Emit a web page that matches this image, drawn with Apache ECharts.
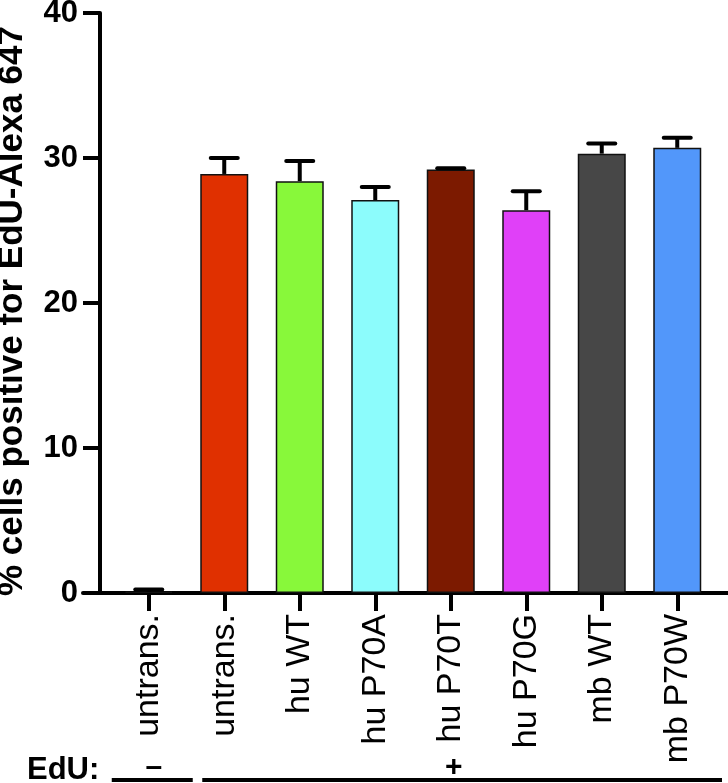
<!DOCTYPE html>
<html>
<head>
<meta charset="utf-8">
<script src="https://cdn.jsdelivr.net/npm/echarts@6/dist/echarts.min.js"></script>
<style>
  html, body { margin: 0; padding: 0; background: #fff; }
  #chart { width: 728px; height: 783px; }
</style>
</head>
<body>
<div id="chart"></div>
<script>
const categories = ['untrans.', 'untrans.', 'hu WT', 'hu P70A', 'hu P70T', 'hu P70G', 'mb WT', 'mb P70W']
const means = [0.1, 28.9, 28.4, 27.1, 29.2, 26.4, 30.3, 30.7]
const errors = [0.15, 1.1, 1.4, 0.9, 0.1, 1.3, 0.7, 0.7]
const barColors = ['#ffffff', '#e03000', '#88f83a', '#8cfcfc', '#7c1a00', '#e040f8', '#474747', '#5297fa']
const yTicks = [0, 10, 20, 30, 40]
const edu = [{ text: '–', from: 0, to: 0 }, { text: '+', from: 1, to: 7 }]

const FONT = '"Liberation Sans", Arial, Helvetica, sans-serif'
const chart = echarts.init(document.getElementById('chart'))

const option = {
  animation: false,
  grid: [
    { left: 111, right: 13, top: 13, bottom: 190, containLabel: false, outerBoundsMode: 'none' },
    { left: 83, right: 0, top: 13, bottom: 190, containLabel: false, outerBoundsMode: 'none' }
  ],
  xAxis: [
    {
      type: 'category',
      gridIndex: 0,
      data: categories,
      axisLine: { show: false },
      axisTick: { show: true, alignWithLabel: true, length: 18, lineStyle: { color: '#000', width: 4 } },
      axisLabel: {
        rotate: 90,
        interval: 0,
        margin: 21,
        color: '#000',
        fontFamily: FONT,
        fontSize: 34
      }
    },
    {
      // just the long baseline that runs past the y axis
      type: 'value',
      gridIndex: 1,
      min: 0,
      max: 1,
      axisLine: { show: true, lineStyle: { color: '#000', width: 4 } },
      axisTick: { show: false },
      axisLabel: { show: false },
      splitLine: { show: false }
    }
  ],
  yAxis: [
    {
      type: 'value',
      gridIndex: 0,
      min: 0,
      max: 40,
      interval: 10,
      offset: 11,
      name: '% cells positive for EdU-Alexa 647',
      nameLocation: 'middle',
      nameGap: 70,
      nameTextStyle: {
        color: '#000',
        fontFamily: FONT,
        fontWeight: 'bold',
        fontSize: 35,
        padding: [0, 16, 0, 0] // nudges the rotated title down a little
      },
      axisLine: { show: true, lineStyle: { color: '#000', width: 4 } },
      axisTick: { show: true, length: 17, lineStyle: { color: '#000', width: 4 } },
      axisLabel: {
        margin: 22,
        color: '#000',
        fontFamily: FONT,
        fontWeight: 'bold',
        fontSize: 31,
        formatter: v => (yTicks.includes(v) ? String(v) : '')
      },
      splitLine: { show: false }
    },
    {
      type: 'value',
      gridIndex: 1,
      show: false,
      min: 0,
      max: 1
    }
  ],
  series: [
    {
      type: 'bar',
      xAxisIndex: 0,
      yAxisIndex: 0,
      barWidth: 48,
      data: means.map((v, i) => ({
        value: v,
        itemStyle: { color: barColors[i], borderColor: '#111', borderWidth: 1.5 }
      })),
      z: 2
    },
    {
      type: 'custom',
      xAxisIndex: 0,
      yAxisIndex: 0,
      data: means.map((v, i) => [i, v, v + errors[i]]),
      renderItem: (params, api) => {
        const base = api.coord([api.value(0), api.value(1)])
        const top = api.coord([api.value(0), api.value(2)])
        const half = 13.5
        const style = { stroke: '#000', lineWidth: 4 }
        return {
          type: 'group',
          children: [
            { type: 'line', shape: { x1: base[0], y1: base[1], x2: top[0], y2: top[1] }, style },
            { type: 'line', shape: { x1: top[0] - half, y1: top[1], x2: top[0] + half, y2: top[1] }, style: { ...style, lineCap: 'round' } }
          ]
        }
      },
      z: 3
    }
  ]
}

chart.setOption(option)

// EdU row under the category labels, placed from the category scale
const rowY = 780
const graphics = [
  {
    type: 'text',
    left: 27,
    top: rowY - 25,
    style: { text: 'EdU:', fill: '#000', font: 'bold 31px ' + FONT }
  }
]
edu.forEach((g, k) => {
  const x0 = chart.convertToPixel({ xAxisIndex: 0 }, g.from)
  const x1 = chart.convertToPixel({ xAxisIndex: 0 }, g.to)
  const start = k === 0 ? x0 - 37 : x0 - 22
  const end = k === 0 ? x1 + 44 : 722
  graphics.push({
    type: 'line',
    shape: { x1: start, y1: rowY, x2: end, y2: rowY },
    style: { stroke: '#000', lineWidth: 4 }
  })
  const mid = k === 0 ? x0 + 5 : chart.convertToPixel({ xAxisIndex: 0 }, 4) + 3
  graphics.push({
    type: 'text',
    x: mid,
    y: rowY - 12,
    style: { text: g.text, fill: '#000', font: 'bold 30px ' + FONT, align: 'center', verticalAlign: 'middle' }
  })
})
chart.setOption({ graphic: graphics })
</script>
</body>
</html>
